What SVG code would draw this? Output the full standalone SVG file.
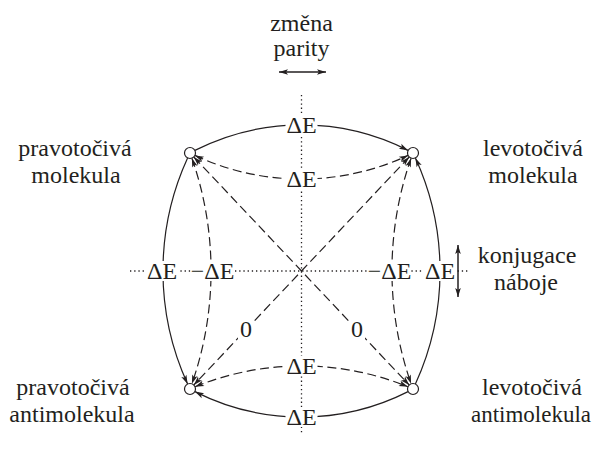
<svg xmlns="http://www.w3.org/2000/svg" width="595" height="450" viewBox="0 0 595 450">
  <style>
    text { font-family: "Liberation Serif", "Times New Roman", serif; font-size: 24px; fill: #231f20; text-anchor: middle; }
    .solid { fill: none; stroke: #231f20; stroke-width: 1.2; }
    .dash { fill: none; stroke: #231f20; stroke-width: 1.2; stroke-dasharray: 9 4.5; }
    .dot { fill: none; stroke: #231f20; stroke-width: 1.3; stroke-dasharray: 1.3 2.9; }
    .bg { fill: #ffffff; }
    .node { fill: #ffffff; stroke: #231f20; stroke-width: 1.2; }
  </style>
  <defs>
    <marker id="ah" viewBox="-10 -5 12 10" refX="0" refY="0" markerWidth="12" markerHeight="10" markerUnits="userSpaceOnUse" orient="auto-start-reverse">
      <path d="M0,0 L-9,-2.8 L-7,0 L-9,2.8 z" style="fill:#231f20;stroke:none"/>
    </marker>
  </defs>

  <g id="axes">
    <line class="dot" x1="301.5" y1="95" x2="301.5" y2="433"/>
    <line class="dot" x1="130" y1="271" x2="470" y2="271"/>
  </g>

  <g id="connectors">
    <path class="solid" d="M194.9,150.4 A236,236 0 0 1 408.1,150.4" marker-end="url(#ah)"/>
    <path class="dash" d="M194.9,155.4 A252,252 0 0 0 408.1,155.4" marker-start="url(#ah)" marker-end="url(#ah)"/>
    <path class="dash" d="M195.05,386.8 A281.8,281.8 0 0 1 407.95,386.8" marker-start="url(#ah)" marker-end="url(#ah)"/>
    <path class="solid" d="M408.1,391.6 A236,236 0 0 1 194.9,391.6" marker-end="url(#ah)"/>
    <path class="solid" d="M187.6,158 A271.4,271.4 0 0 0 187.6,384" marker-end="url(#ah)"/>
    <path class="solid" d="M415.4,384 A271.4,271.4 0 0 0 415.4,158" marker-end="url(#ah)"/>
    <path class="dash" d="M191.9,158.2 A342,342 0 0 1 191.9,383.8" marker-start="url(#ah)" marker-end="url(#ah)"/>
    <path class="dash" d="M411.1,158.2 A342,342 0 0 0 411.1,383.8" marker-start="url(#ah)" marker-end="url(#ah)"/>
    <path class="dash" d="M193.8,157 L409.2,385" marker-start="url(#ah)" marker-end="url(#ah)"/>
    <path class="dash" d="M409.2,157 L193.8,385" marker-start="url(#ah)" marker-end="url(#ah)"/>

    <!-- symmetry arrows -->
    <path class="solid" style="stroke-width:1.5" d="M279,72 L326,72" marker-start="url(#ah)" marker-end="url(#ah)"/>
    <path class="solid" style="stroke-width:1.5" d="M458,245 L458,297" marker-start="url(#ah)" marker-end="url(#ah)"/>

    <!-- edge labels -->
    <rect class="bg" x="285.5" y="115" width="32" height="20"/>
    <text x="301.5" y="133">ΔE</text>
    <rect class="bg" x="285.5" y="169" width="32" height="20"/>
    <text x="301.5" y="187">ΔE</text>
    <rect class="bg" x="285.5" y="356" width="32" height="20"/>
    <text x="301.5" y="374">ΔE</text>
    <rect class="bg" x="285.5" y="407" width="32" height="20"/>
    <text x="301.5" y="425">ΔE</text>
    <rect class="bg" x="146" y="261" width="32" height="20"/>
    <text x="162" y="279">ΔE</text>
    <rect class="bg" x="424" y="261" width="32" height="20"/>
    <text x="440" y="279">ΔE</text>
    <rect class="bg" x="191" y="261" width="43" height="20"/>
    <text x="212.5" y="279">−ΔE</text>
    <rect class="bg" x="368" y="261" width="43" height="20"/>
    <text x="389.5" y="279">−ΔE</text>
    <rect class="bg" x="238" y="320" width="16" height="20"/>
    <text x="246" y="337">0</text>
    <rect class="bg" x="349" y="320" width="16" height="20"/>
    <text x="357" y="337">0</text>
  </g>

  <g id="node-tl">
    <circle class="node" cx="190" cy="153" r="5.5"/>
    <text x="75" y="156">pravotočivá</text>
    <text x="76" y="183">molekula</text>
  </g>
  <g id="node-tr">
    <circle class="node" cx="413" cy="153" r="5.5"/>
    <text x="533" y="156">levotočivá</text>
    <text x="533" y="183">molekula</text>
  </g>
  <g id="node-bl">
    <circle class="node" cx="190" cy="389" r="5.5"/>
    <text x="73" y="395">pravotočivá</text>
    <text x="72" y="422">antimolekula</text>
  </g>
  <g id="node-br">
    <circle class="node" cx="413" cy="389" r="5.5"/>
    <text x="532" y="395">levotočivá</text>
    <text x="531" y="422" textLength="120" lengthAdjust="spacingAndGlyphs">antimolekula</text>
  </g>

  <g id="labels">
    <text x="301.5" y="31">změna</text>
    <text x="301.5" y="56">parity</text>
    <text x="527" y="263">konjugace</text>
    <text x="526" y="290">náboje</text>
  </g>
</svg>
